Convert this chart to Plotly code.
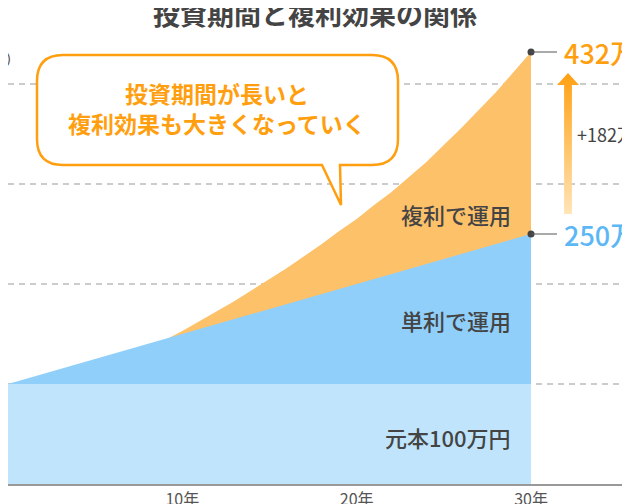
import plotly.graph_objects as go

# data
years = list(range(0, 31))
compound = [100, 103, 107, 111, 116, 121, 126, 131, 137, 144, 153,
            163, 173, 183, 194, 205, 216, 228, 240, 253, 265,
            279, 292, 307, 322, 339, 356, 374, 392, 412, 432]
simple_years = [0, 30]
simple = [100, 250]
principal_years = [0, 30]
principal = [100, 100]
tick_years = [10, 20, 30]
tick_text = ['10年', '20年', '30年']
grid_vals = [100, 200, 300, 400]

W, H = 630, 504
OFF = 8  # page body margin, the figure sits 8px in from the window corner
FONT = 'Noto Sans CJK JP'
DARK = '#444444'
ORANGE = '#FF9F10'
BLUE_TXT = '#5CB7F5'

# pixel layout of the plot area (window pixels)
x0_px, x30_px, base_px = 8, 531, 484
px_per_year = (x30_px - x0_px) / 30.0


def paper(x, y):
    return (x - OFF) / W, 1 - (y - OFF) / H


fig = go.Figure()
fig.add_trace(go.Scatter(x=years, y=compound, mode='none', fill='tozeroy',
                         fillcolor='#FDC16A', hoverinfo='skip'))
fig.add_trace(go.Scatter(x=simple_years, y=simple, mode='none', fill='tozeroy',
                         fillcolor='#90CFFA', hoverinfo='skip'))
fig.add_trace(go.Scatter(x=principal_years, y=principal, mode='none', fill='tozeroy',
                         fillcolor='#BFE4FB', hoverinfo='skip'))

end_x = years[-1]
end_c = compound[-1]
end_s = simple[-1]

# gradient arrow between the two end values
xa = end_x + 37 / px_per_year
hw = 3.9 / px_per_year
hh = 11 / px_per_year
y_bot = end_s + 20
y_head = end_c - 33
y_tip = end_c - 21
fig.add_trace(go.Scatter(
    x=[xa - hw, xa + hw, xa + hw, xa + hh, xa, xa - hh, xa - hw, xa - hw],
    y=[y_bot, y_bot, y_head, y_head, y_tip, y_head, y_head, y_bot],
    mode='none', fill='toself',
    fillgradient=dict(type='vertical', colorscale=[[0, '#FFE4B6'], [1, '#FFA012']]),
    hoverinfo='skip'))

# end markers + connector lines
for yv in [end_c, end_s]:
    fig.add_shape(type='line', x0=end_x, x1=end_x + 26 / px_per_year, y0=yv, y1=yv,
                  line=dict(color='#555555', width=1))
fig.add_trace(go.Scatter(x=[end_x, end_x], y=[end_c, end_s], mode='markers',
                         marker=dict(color=DARK, size=7), hoverinfo='skip'))

ann = []
ann.append(dict(x=end_x + 31 / px_per_year, y=end_c, xref='x', yref='y', text=f'{end_c}万円',
                showarrow=False, xanchor='left',
                font=dict(family=FONT, size=27, color=ORANGE, weight=500)))
ann.append(dict(x=end_x + 31 / px_per_year, y=end_s, xref='x', yref='y', text=f'{end_s}万円',
                showarrow=False, xanchor='left',
                font=dict(family=FONT, size=27, color=BLUE_TXT, weight=500)))
ann.append(dict(x=xa + 7 / px_per_year, y=(end_c + end_s) / 2 + 9, xref='x', yref='y',
                text=f'+{end_c - end_s}万円', showarrow=False, xanchor='left',
                font=dict(family=FONT, size=18, color=DARK)))

# area labels
lab_x = (513 - x0_px) / px_per_year
for txt, yv in [('複利で運用', 270), ('単利で運用', 164), ('元本100万円', 47)]:
    ann.append(dict(x=lab_x, y=yv, xref='x', yref='y', text=txt, showarrow=False,
                    xanchor='right', font=dict(family=FONT, size=22, color=DARK, weight=500)))

# unit label (cut at the left edge like the original)
ux, uy = paper(23, 58)
ann.append(dict(x=ux, y=uy, xref='paper', yref='paper', text='（万円）', showarrow=False,
                xanchor='right', yanchor='middle', font=dict(family=FONT, size=16, color='#555555')))

# callout bubble
L, R, T, B, r = 37, 398, 55, 165, 26
pts = [('M', L + r, T), ('L', R - r, T), ('Q', R, T, R, T + r), ('L', R, B - r),
       ('Q', R, B, R - r, B), ('L', 340, B), ('L', 341, 205), ('L', 322, B),
       ('L', L + r, B), ('Q', L, B, L, B - r), ('L', L, T + r), ('Q', L, T, L + r, T)]
path = ''
for p in pts:
    cmd = p[0]
    coords = p[1:]
    segs = []
    for i in range(0, len(coords), 2):
        px_, py_ = paper(coords[i], coords[i + 1])
        segs.append(f'{px_:.5f},{py_:.5f}')
    path += cmd + ' '.join(segs) + ' '
path += 'Z'
fig.add_shape(type='path', path=path, xref='paper', yref='paper',
              fillcolor='white', line=dict(color=ORANGE, width=2.5), layer='above')

bx, by = paper(217, 108)
ann.append(dict(x=bx, y=by, xref='paper', yref='paper',
                text='投資期間が長いと<br>複利効果も大きくなっていく', showarrow=False,
                align='center', xanchor='center', yanchor='middle',
                font=dict(family=FONT, size=23, color=ORANGE, weight='bold')))

tx, ty = paper(315, 16)
fig.update_layout(
    width=W, height=H,
    margin=dict(l=0, r=0, t=0, b=0),
    paper_bgcolor='white', plot_bgcolor='white',
    showlegend=False,
    title=dict(text='<b>投資期間と複利効果の関係</b>', x=tx, xanchor='center',
               y=ty, yanchor='middle',
               font=dict(family=FONT, size=27, color=DARK)),
    annotations=ann,
    xaxis=dict(domain=[(x0_px - OFF) / W, 1], range=[0, (W + OFF - x0_px) / px_per_year],
               showgrid=False, zeroline=False, showline=True, linecolor='#999999', linewidth=1.5,
               tickvals=tick_years, ticktext=tick_text, ticks='',
               tickfont=dict(family=FONT, size=16, color='#555555')),
    yaxis=dict(domain=[(H + OFF - base_px) / H, 1], range=[0, base_px - OFF],
               showticklabels=False, zeroline=False, showline=False,
               tickvals=grid_vals, showgrid=True, gridcolor='#cccccc', gridwidth=1.5,
               griddash='6px,5px'),
)

fig.write_html('out.html', config={'displayModeBar': False})
